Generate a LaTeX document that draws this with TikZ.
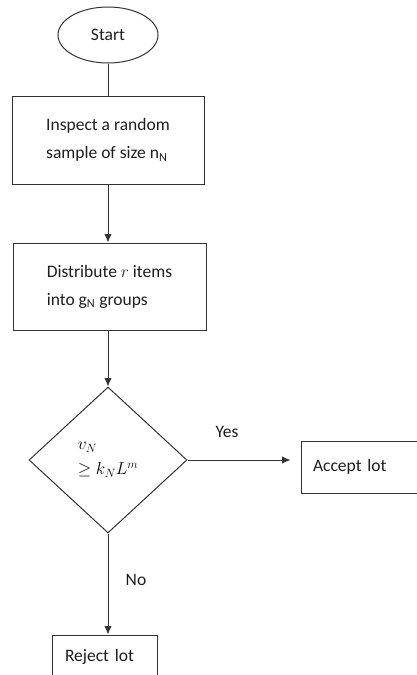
\documentclass[tikz,border=0pt]{standalone}
\usepackage{fontspec}
\setmainfont{Carlito}
\usetikzlibrary{shapes.geometric,arrows.meta}
\definecolor{ink}{HTML}{1E1E1E}
\definecolor{edge}{HTML}{333333}
\tikzset{
  base/.style={draw=edge, line width=1pt, text=ink, font=\fontsize{17.5}{28}\selectfont},
  boxnode/.style={base, rectangle, align=left},
  conn/.style={draw=edge, line width=1pt},
  arr/.style={conn, -{Latex[length=8.5pt,width=7.5pt]}},
  lbl/.style={text=ink, font=\fontsize{17.5}{20}\selectfont}
}
\begin{document}
\begin{tikzpicture}[x=1pt,y=-1pt]
\useasboundingbox (0,0) rectangle (417,675);
\clip (0,0) rectangle (417,675);
\node[base, ellipse, minimum width=100pt, minimum height=56pt, inner sep=0pt] (start) at (108,35) {Start};
\node[boxnode, minimum width=192pt, minimum height=88pt] (inspect) at (108,140) {Inspect a random\\sample of size n\textsubscript{N}};
\node[boxnode, minimum width=193pt, minimum height=87pt] (distr) at (109.5,286.5) {Distribute $r$ items\\into g\textsubscript{N} groups};
\node[base, diamond, minimum width=158pt, minimum height=146pt, inner sep=0pt, align=left, text=black, font=\fontsize{18.5}{25}\selectfont] (dec) at (108,460) {$v_N$\\$\geq k_N L^m$};
\node[boxnode, minimum width=119pt, minimum height=52pt, text width=95pt, inner xsep=12pt] (accept) at (360.5,467) {Accept lot};
\node[boxnode, minimum width=105pt, minimum height=44pt, text width=79pt, inner xsep=13pt] (reject) at (104.5,657) {Reject lot};
\draw[conn] (start.south) -- (start.south |- inspect.north);
\draw[arr] (inspect.south) -- (inspect.south |- distr.north);
\draw[arr] (distr.south -| dec.north) -- (dec.north);
\draw[arr, shorten >=10pt] (dec.east) -- (accept.west |- dec.east);
\draw[arr] (dec.south) -- (dec.south |- reject.north);
\node[lbl] (yes) at (227,432) {Yes};
\node[lbl] (no) at (136,580) {No};
\end{tikzpicture}
\end{document}
